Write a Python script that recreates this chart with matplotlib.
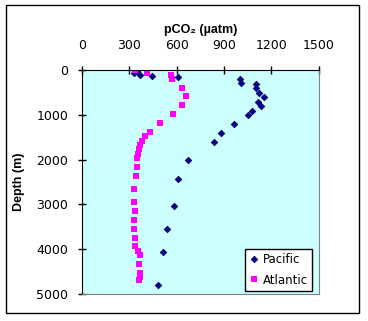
import matplotlib
matplotlib.use("Agg")
import matplotlib.pyplot as plt
from matplotlib.patches import Rectangle

plt.rcParams['font.family'] = ['DejaVu Sans']

# pCO2 (uatm) and depth (m)
pacific_pco2 = [351, 332, 370, 446, 607, 1004, 1008, 1101, 1101, 1124, 1156, 1116,
                1135, 1080, 1054, 966, 883, 839, 674, 609, 586, 541, 516, 484]
pacific_depth = [15, 60, 118, 141, 163, 201, 283, 319, 409, 513, 603, 714,
                 804, 915, 1004, 1213, 1406, 1607, 2016, 2440, 3036, 3549, 4063, 4799]

atlantic_pco2 = [336, 410, 562, 571, 634, 659, 634, 577, 495, 431, 399, 380, 368,
                 361, 355, 349, 349, 342, 330, 330, 336, 330, 330, 336, 336, 355,
                 368, 361, 368, 368, 361]
atlantic_depth = [0, 60, 105, 194, 395, 573, 774, 975, 1176, 1377, 1473, 1577, 1667,
                  1756, 1868, 1964, 2158, 2359, 2656, 2946, 3147, 3348, 3549, 3750, 3929, 4033,
                  4129, 4330, 4531, 4621, 4688]

xticks = [0, 300, 600, 900, 1200, 1500]
yticks = [0, 1000, 2000, 3000, 4000, 5000]

W, H = 368, 321
fig = plt.figure(figsize=(W/100, H/100), dpi=100)
fig.patch.set_facecolor('white')

# outer chart border
fig.patches.append(Rectangle((6/W, (H-313)/H), 353/W, 308/H, transform=fig.transFigure,
                             fill=False, edgecolor='black', linewidth=1))

ax = fig.add_axes([82/W, (H-294)/H, 236.5/W, 224/H])
ax.set_facecolor('#CCFFFF')

ax.plot(pacific_pco2, pacific_depth, linestyle='none', marker='D', ms=3.3,
        color='#000080', mew=0.6, label='Pacific')
ax.plot(atlantic_pco2, atlantic_depth, linestyle='none', marker='s', ms=4.3,
        color='#FF00FF', mew=0, label='Atlantic')

ax.set_xlim(0, 1500)
ax.set_ylim(5000, 0)
ax.xaxis.tick_top()
ax.xaxis.set_label_position('top')
ax.set_xticks(xticks)
ax.set_yticks(yticks)
ax.tick_params(direction='inout', length=6, width=1, labelsize=9, color='black')
ax.tick_params(axis='x', pad=10)
ax.tick_params(axis='y', pad=7)

ax.spines['left'].set_color('black')
ax.spines['top'].set_color('black')
ax.spines['right'].set_color('#808080')
ax.spines['bottom'].set_color('#808080')

ax.set_title('pCO₂ (µatm)', fontsize=9, fontweight='bold', pad=27,
             family=['Liberation Sans', 'DejaVu Sans'])
ax.set_ylabel('Depth (m)', fontsize=9, fontweight='bold', labelpad=8,
              family=['Liberation Sans', 'DejaVu Sans'])

leg = ax.legend(loc='lower right', bbox_to_anchor=(312.3/W, (H-291.3)/H),
                bbox_transform=fig.transFigure, borderaxespad=0, fontsize=8.5,
                fancybox=False, framealpha=1, edgecolor='black',
                handlelength=0.6, handletextpad=0.45, borderpad=0.4, labelspacing=0.6)
leg.get_frame().set_linewidth(1)

fig.savefig('out.png', dpi=100)
